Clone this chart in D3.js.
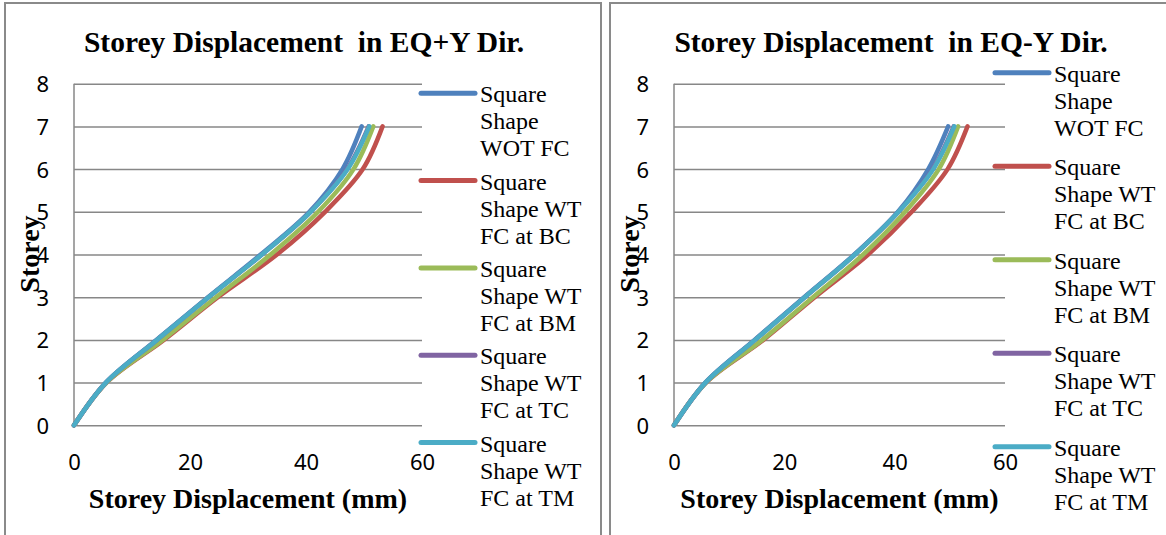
<!DOCTYPE html>
<html>
<head>
<meta charset="utf-8">
<script src="https://cdn.jsdelivr.net/npm/d3@7/dist/d3.min.js"></script>
<style>
  html, body { margin: 0; padding: 0; background: #fff; }
  svg { display: block; }
  .keep-space { white-space: pre; }
</style>
</head>
<body>
<svg id="chart" width="1166" height="535"></svg>
<script>
// Storey levels (0 = base)
const storeys = [0, 1, 2, 3, 4, 5, 6, 7];

// Series names and colours
const seriesNames = [
  ["Square", "Shape", "WOT FC"],
  ["Square", "Shape WT", "FC at BC"],
  ["Square", "Shape WT", "FC at BM"],
  ["Square", "Shape WT", "FC at TC"],
  ["Square", "Shape WT", "FC at TM"]
];
const seriesColors = ["#4F81BD", "#C0504D", "#9BBB59", "#8064A2", "#4BACC6"];

// Displacements (mm) for EQ+Y
const plusWOT = [0, 5.5, 14.2, 23.1, 32.2, 40.6, 46.3, 49.6];
const plusBC  = [0, 5.6, 15.5, 24.8, 35.0, 43.3, 49.8, 53.2];
const plusBM  = [0, 5.6, 15.3, 24.5, 33.9, 42.1, 48.2, 51.6];
const plusTC  = [0, 5.5, 14.3, 23.2, 32.4, 40.8, 47.1, 50.8];
const plusTM  = [0, 5.5, 14.3, 23.2, 32.4, 40.8, 47.2, 50.9];

// Displacements (mm) for EQ-Y
const minusWOT = [0, 5.7, 14.6, 23.6, 32.7, 40.6, 46.1, 49.7];
const minusBC  = [0, 5.8, 16.2, 25.5, 35.2, 43.1, 49.6, 53.2];
const minusBM  = [0, 5.8, 16.0, 25.2, 34.3, 41.9, 48.0, 51.5];
const minusTC  = [0, 5.7, 14.7, 23.7, 32.8, 40.7, 46.9, 50.7];
const minusTM  = [0, 5.7, 14.7, 23.7, 32.8, 40.7, 47.0, 50.8];

// Axis ticks
const xTicks = [0, 20, 40, 60];
const yTicks = [0, 1, 2, 3, 4, 5, 6, 7, 8];

const svg = d3.select("#chart");
const serif = "'Liberation Serif', 'Times New Roman', serif";
const sans = "'Noto Sans', 'Open Sans', sans-serif";
const gridColor = "#878787";

function drawPanel(cfg) {
  const g = svg.append("g");

  // panel frame
  g.append("rect")
    .attr("x", cfg.frame[0]).attr("y", cfg.frame[1])
    .attr("width", cfg.frame[2]).attr("height", cfg.frame[3])
    .attr("fill", "none").attr("stroke", "#8a8a8a").attr("stroke-width", 2);

  const x = d3.scaleLinear().domain([0, 60]).range([cfg.left, cfg.right]);
  const y = d3.scaleLinear().domain([0, 8]).range([cfg.bottom, cfg.top]);

  // horizontal gridlines with y tick labels
  const yAxis = g.append("g")
    .attr("transform", `translate(${cfg.left},0)`)
    .call(d3.axisLeft(y).tickValues(yTicks).tickFormat(d3.format("d"))
      .tickSize(-(cfg.right - cfg.left)).tickPadding(25));
  yAxis.select(".domain").remove();
  yAxis.selectAll(".tick line").attr("stroke", gridColor).attr("stroke-width", 1.5);
  yAxis.selectAll(".tick text")
    .attr("font-family", sans).attr("font-size", 22).attr("fill", "#000")
    .attr("dy", "0.36em");

  // vertical axis line
  g.append("line")
    .attr("x1", cfg.left).attr("x2", cfg.left)
    .attr("y1", y(0)).attr("y2", y(8))
    .attr("stroke", gridColor).attr("stroke-width", 1.5);

  // x tick labels
  const xAxis = g.append("g")
    .attr("transform", `translate(0,${cfg.bottom})`)
    .call(d3.axisBottom(x).tickValues(xTicks).tickFormat(d3.format("d"))
      .tickSize(0).tickPadding(29));
  xAxis.select(".domain").remove();
  xAxis.selectAll(".tick text")
    .attr("font-family", sans).attr("font-size", 22).attr("fill", "#000");

  // series lines
  const line = d3.line()
    .x(d => x(d[0])).y(d => y(d[1]))
    .curve(d3.curveCatmullRom.alpha(0.5));
  cfg.series.forEach((vals, i) => {
    g.append("path")
      .datum(vals.map((v, k) => [v, storeys[k]]))
      .attr("d", line)
      .attr("fill", "none")
      .attr("stroke", seriesColors[i])
      .attr("stroke-width", 4.5)
      .attr("stroke-linejoin", "round")
      .attr("stroke-linecap", "round");
  });

  // chart title
  g.append("text")
    .attr("class", "keep-space")
    .attr("x", cfg.titleX).attr("y", 52)
    .attr("text-anchor", "middle")
    .attr("font-family", serif).attr("font-weight", "bold").attr("font-size", 29.5)
    .text(cfg.title);

  // axis titles
  g.append("text")
    .attr("x", (cfg.left + cfg.right) / 2).attr("y", 508)
    .attr("text-anchor", "middle")
    .attr("font-family", serif).attr("font-weight", "bold").attr("font-size", 28)
    .text("Storey Displacement (mm)");
  g.append("text")
    .attr("transform", `translate(${cfg.left - 35},254) rotate(-90)`)
    .attr("text-anchor", "middle")
    .attr("font-family", serif).attr("font-weight", "bold").attr("font-size", 28)
    .text("Storey");

  // legend
  cfg.series.forEach((vals, i) => {
    const ly = cfg.legendTop + i * cfg.legendStep;
    g.append("line")
      .attr("x1", cfg.legendX).attr("x2", cfg.legendX + 54)
      .attr("y1", ly).attr("y2", ly)
      .attr("stroke", seriesColors[i]).attr("stroke-width", 5)
      .attr("stroke-linecap", "round");
    const t = g.append("text")
      .attr("font-family", serif).attr("font-size", 24).attr("fill", "#000");
    seriesNames[i].forEach((s, k) => {
      t.append("tspan")
        .attr("x", cfg.legendX + 59)
        .attr("y", ly + 9 + k * 27)
        .text(s);
    });
  });
}

drawPanel({
  frame: [5, 3, 596, 560],
  left: 74, right: 422, top: 83.7, bottom: 425.3,
  title: "Storey Displacement  in EQ+Y Dir.", titleX: 304,
  series: [plusWOT, plusBC, plusBM, plusTC, plusTM],
  legendX: 421, legendTop: 93.3, legendStep: 87.3
});

drawPanel({
  frame: [610, 3, 600, 560],
  left: 674, right: 1005, top: 83.7, bottom: 425.3,
  title: "Storey Displacement  in EQ-Y Dir.", titleX: 891,
  series: [minusWOT, minusBC, minusBM, minusTC, minusTM],
  legendX: 995, legendTop: 72.7, legendStep: 93.5
});
</script>
</body>
</html>
